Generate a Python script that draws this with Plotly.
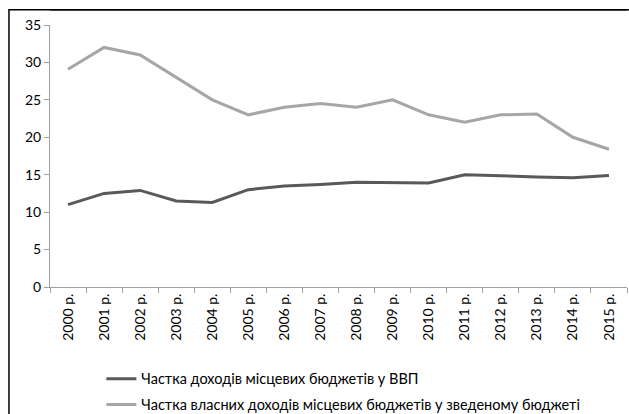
import plotly.graph_objects as go

years = ["2000 р.", "2001 р.", "2002 р.", "2003 р.", "2004 р.", "2005 р.", "2006 р.", "2007 р.",
         "2008 р.", "2009 р.", "2010 р.", "2011 р.", "2012 р.", "2013 р.", "2014 р.", "2015 р."]
share_gdp = [11.0, 12.5, 12.9, 11.5, 11.3, 13.0, 13.5, 13.7, 14.0, 14.0, 13.9, 15.0, 14.8, 14.7, 14.6, 14.9]
share_own = [29.1, 32.0, 31.0, 28.0, 25.0, 23.0, 24.0, 24.5, 24.0, 25.0, 23.0, 22.0, 23.0, 23.1, 20.0, 18.4]
name_gdp = "Частка доходів місцевих бюджетів у ВВП"
name_own = "Частка власних доходів місцевих бюджетів у зведеному бюджеті"
y_ticks = [0, 5, 10, 15, 20, 25, 30, 35]

FONT = "Lato"

fig = go.Figure()
fig.add_trace(go.Scatter(x=years, y=share_gdp, mode="lines", name=name_gdp,
                         line=dict(color="#595959", width=3), legendgroup="a"))
fig.add_trace(go.Scatter(x=years, y=share_own, mode="lines", name=name_own,
                         line=dict(color="#a6a6a6", width=3), legendgroup="b"))

axis_color = "#a0a0a0"
fig.update_layout(
    width=629, height=414,
    margin=dict(l=50, r=2, t=25, b=127, autoexpand=False),
    paper_bgcolor="white", plot_bgcolor="white",
    font=dict(family=FONT, size=14, color="#000000"),
    showlegend=True,
    legend=dict(x=0.089, y=-0.289, xanchor="left", yanchor="top",
                orientation="v", tracegroupgap=4, bgcolor="rgba(0,0,0,0)",
                font=dict(family=FONT, size=14.5, color="#000000")),
    xaxis=dict(type="category", range=[-0.5, 15.5], tickangle=-90, automargin=False,
               showline=True, linecolor=axis_color, linewidth=1,
               ticks="outside", ticklen=5, tickcolor=axis_color, tickson="boundaries",
               showgrid=False, zeroline=False,
               tickfont=dict(family=FONT, size=14, color="#000000")),
    yaxis=dict(range=[0, 35], tickvals=y_ticks, showline=True, linecolor=axis_color, linewidth=1,
               automargin=False,
               ticks="outside", ticklen=5, tickcolor=axis_color,
               showgrid=False, zeroline=False,
               tickfont=dict(family=FONT, size=14, color="#000000")),
    shapes=[
        dict(type="rect", xref="paper", yref="paper", x0=-0.0711, x1=1.08, y0=-0.7, y1=1.0585,
             line=dict(color="#000000", width=1.5), fillcolor="rgba(0,0,0,0)", layer="above"),
        dict(type="line", xref="paper", yref="paper", x0=0.0, x1=1.0, y0=1.0585, y1=1.0585,
             line=dict(color="#000000", width=1.5), layer="above"),
    ],
)

fig.write_html("out.html", config={"displayModeBar": False, "staticPlot": True},
               post_script="document.body.style.margin='0';document.body.style.overflow='hidden';")
